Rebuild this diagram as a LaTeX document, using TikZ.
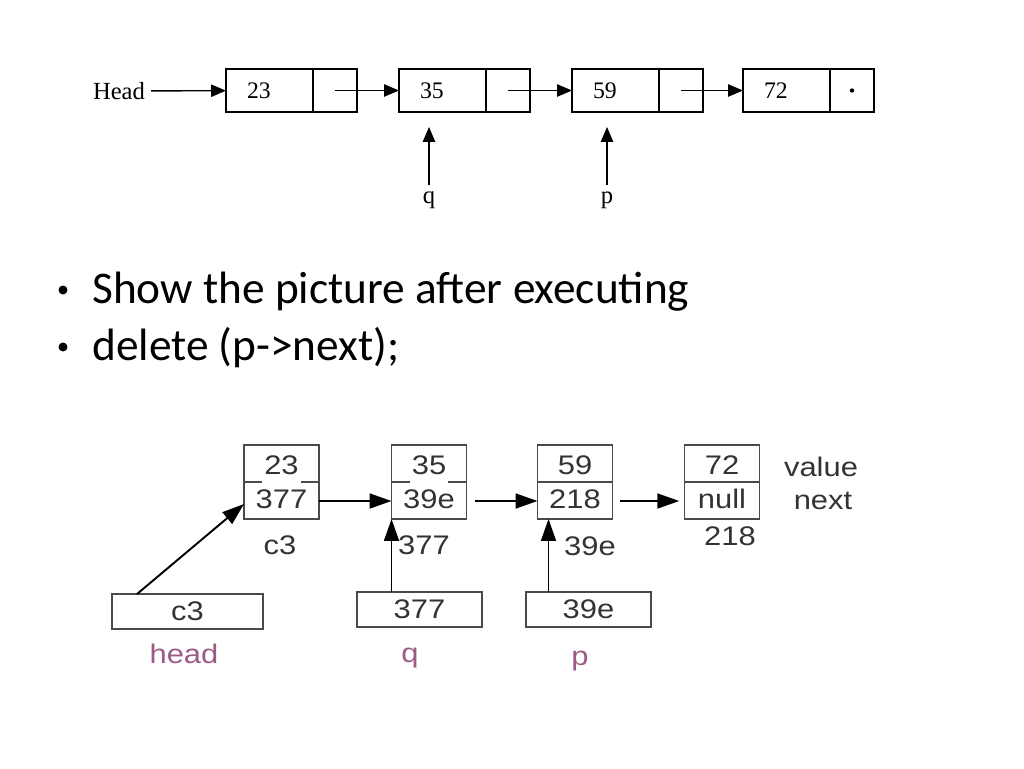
\documentclass[tikz,border=0pt]{standalone}
\usepackage{fontspec}
\setmainfont{Liberation Serif}
\newfontfamily\slidefont{Carlito}
\newfontfamily\boxfont[FakeStretch=1.15]{Liberation Sans}
\usepackage{tikz}
\usetikzlibrary{arrows.meta,calc,positioning}

\definecolor{boxgray}{HTML}{4A4A4A}
\definecolor{txtgray}{HTML}{333333}
\definecolor{varpink}{HTML}{9C5A86}

\begin{document}
\begin{tikzpicture}[x=0.02cm, y=-0.02cm, >={Triangle[length=8.5pt,width=7pt]}]
	\tikzset{dcell/.style={draw, line width=0.8pt, outer sep=0pt, inner xsep=0.42cm, inner ysep=0pt, text width=0.9cm, align=left, minimum height=0.86cm, font=\fontsize{13.5}{16}\selectfont}}
	\tikzset{pcell/.style={draw, line width=0.8pt, outer sep=0pt, inner sep=0pt, minimum width=0.88cm, minimum height=0.86cm}}
	\tikzset{tlab/.style={font=\fontsize{14}{16}\selectfont}}
	\tikzset{ln/.style={line width=0.8pt}}
	\tikzset{node box/.style={draw=boxgray, line width=1.1pt, minimum width=1.5cm, minimum height=1.48cm, inner sep=0pt, outer sep=0pt}}
	\tikzset{var box/.style={draw=boxgray, line width=1.1pt, minimum height=0.7cm, inner sep=0pt, outer sep=0pt, text=txtgray, font=\boxfont\fontsize{15.3}{18}\selectfont}}
	\tikzset{btxt/.style={text=txtgray, inner sep=0pt, font=\boxfont\fontsize{15.3}{18}\selectfont}}
	\tikzset{vlab/.style={text=varpink, inner sep=0pt, anchor=base, font=\boxfont\fontsize{15.3}{18}\selectfont}}
	\tikzset{arr/.style={->, line width=1.1pt, draw=black, >={Triangle[length=12.5pt,width=8.5pt]}}}
	\tikzset{slide/.style={inner sep=0pt, font=\slidefont\fontsize{25.8}{30}\selectfont}}
	\tikzset{blt/.style={circle, fill, inner sep=0pt, minimum size=0.18cm}}
	\useasboundingbox (0,0) rectangle (1024,768);
	% top list
	\node[tlab] (head) at (119,91) {Head};
	\node[dcell] (d1) at (269.5,90.5) {23}; \node[pcell, right=0pt of d1] (c1) {};
	\node[dcell] (d2) at (442.5,90.5) {35}; \node[pcell, right=0pt of d2] (c2) {};
	\node[dcell] (d3) at (615.5,90.5) {59}; \node[pcell, right=0pt of d3] (c3) {};
	\node[dcell] (d4) at (786.5,90.5) {72}; \node[pcell, right=0pt of d4] (c4) {};
	\fill (c4.center) circle (2.2);
	\draw[ln, ->] (head) -- (d1);
	\draw[ln, ->] (c1.center) -- (d2);
	\draw[ln, ->] (c2.center) -- (d3);
	\draw[ln, ->] (c3.center) -- (d4);
	\node[tlab] (q) at (429,200) {q};
	\node[tlab] (p) at (607,200) {p};
	\draw[ln, ->, shorten >=8.5pt] (q) -- (q |- d2.south);
	\draw[ln, ->, shorten >=8.5pt] (p) -- (p |- d3.south);
	% bullets
	\node[blt] (dot1) at (63,290) {};
	\node[slide, anchor=base west] (t1) at (92,303) {Show the picture after executing};
	\node[blt] (dot2) at (63,347) {};
	\node[slide, anchor=base west] (t2) at (92,360) {delete (p->next);};
	% memory picture
	\node[node box] (b1) at (281.5,482) {};
	\node[node box] (b2) at (429,482) {};
	\node[node box] (b3) at (575,482) {};
	\node[node box] (b4) at (722,482) {};
	\draw[draw=boxgray, line width=1.1pt] (b1.west) -- ++(18,0) ($(b1.east)+(-18,0)$) -- (b1.east);
	\draw[draw=boxgray, line width=1.1pt] (b2.west) -- ++(18,0) ($(b2.east)+(-18,0)$) -- (b2.east);
	\draw[draw=boxgray, line width=1.1pt] (b3.west) -- (b3.east);
	\draw[draw=boxgray, line width=1.1pt] (b4.west) -- (b4.east);
	\node[btxt] (v1) at (281.5,465) {23};  \node[btxt] (x1) at (281.5,499) {377};
	\node[btxt] (v2) at (429,465) {35};    \node[btxt] (x2) at (429,499) {39e};
	\node[btxt] (v3) at (575,465) {59};    \node[btxt] (x3) at (575,499) {218};
	\node[btxt] (v4) at (722,465) {72};    \node[btxt] (x4) at (722,499) {null};
	\node[btxt] (a1) at (280,545) {c3};
	\node[btxt] (a2) at (424,545) {377};
	\node[btxt] (a3) at (590,546) {39e};
	\node[btxt] (a4) at (730,536) {218};
	\node[btxt] (lv) at (821,467) {value};
	\node[btxt] (ln) at (823,501) {next};
	\draw[arr] (b1.east |- 0,501) -- (b2.west |- 0,501);
	\draw[arr, shorten <=5pt] (b2.east |- 0,501) -- (b3.west |- 0,501);
	\draw[arr, shorten <=4pt, shorten >=3pt] (b3.east |- 0,501) -- (b4.west |- 0,501);
	% variables
	\node[var box, minimum width=3.02cm] (hv) at (187.5,611.5) {c3};
	\node[var box, minimum width=2.5cm] (qv) at (419.5,609.5) {377};
	\node[var box, minimum width=2.5cm] (pv) at (588.5,609.5) {39e};
	\node[vlab] (hl) at (184,663) {head};
	\node[vlab] (ql) at (410,662) {q};
	\node[vlab] (pl) at (580,665) {p};
	\coordinate (hs) at ($(hv.north west)+(25,0)$);
	\coordinate (pt) at ($(b3.south west)+(11,0)$);
	\draw[arr] (hs) -- (b1.west |- 0,504);
	\draw[arr] (b2.south west |- qv.north) -- (b2.south west);
	\draw[arr] (pt |- pv.north) -- (pt);
\end{tikzpicture}
\end{document}
